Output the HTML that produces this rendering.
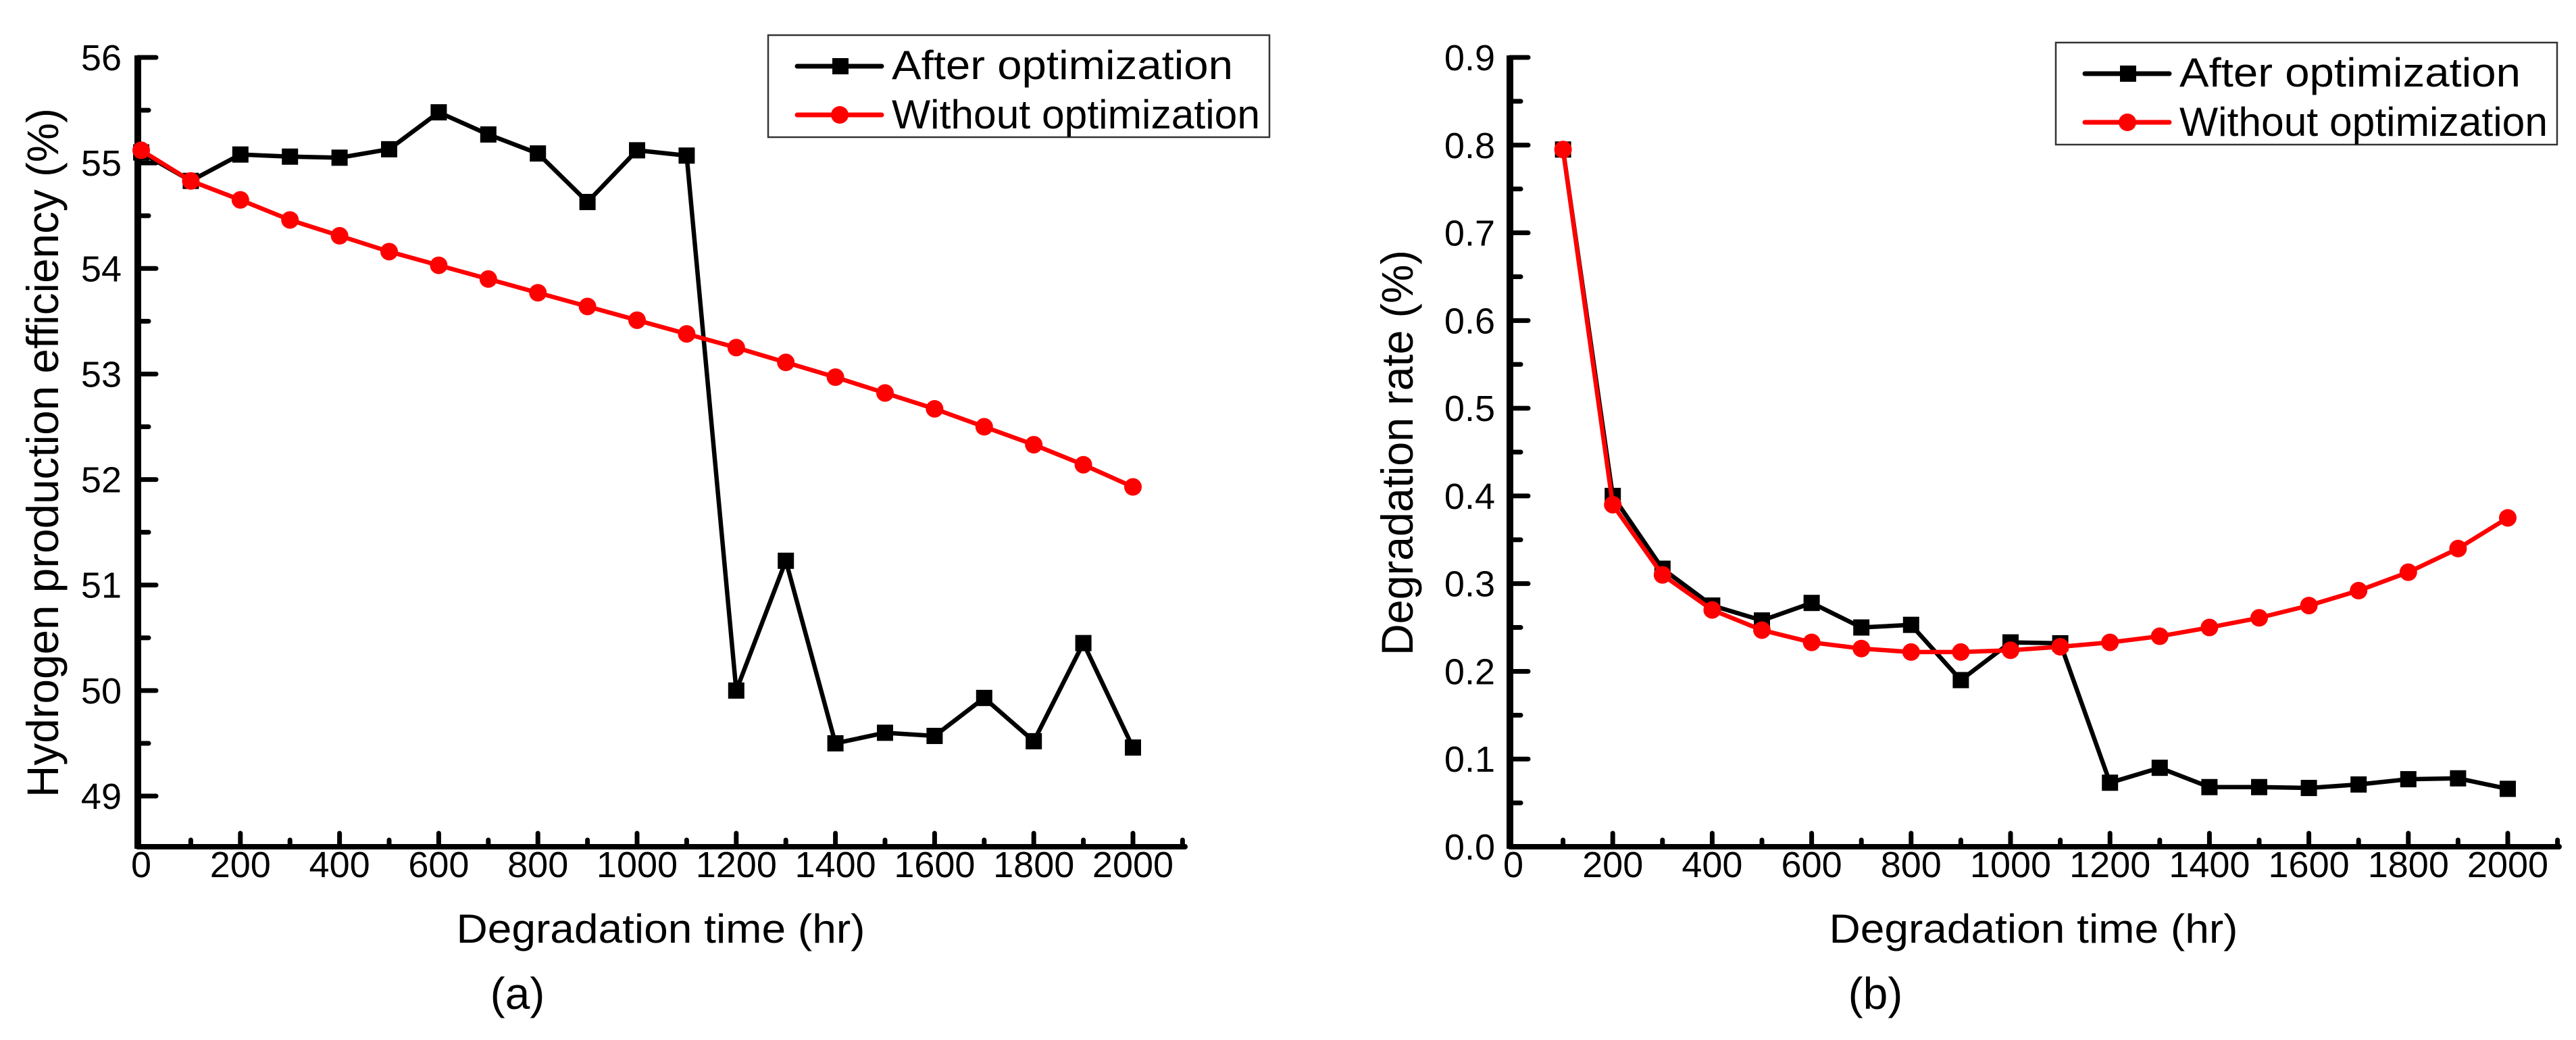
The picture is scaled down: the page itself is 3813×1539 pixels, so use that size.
<!DOCTYPE html>
<html><head><meta charset="utf-8"><style>
html,body{margin:0;padding:0;background:#fff;}
svg{display:block;font-family:"Liberation Sans",Arial,sans-serif;}
</style></head><body>
<svg id="fig" width="3813" height="1539" viewBox="0 0 3813 1539" xmlns="http://www.w3.org/2000/svg"></svg>
<script>
const timesA = [0,100,200,300,400,500,600,700,800,900,1000,1100,1200,1300,1400,1500,1600,1700,1800,1900,2000];
const effAfter = [55.1,54.83,55.08,55.06,55.05,55.13,55.48,55.27,55.09,54.63,55.12,55.07,50.0,51.23,49.5,49.6,49.57,49.93,49.52,50.45,49.46];
const effWithout = [55.12,54.83,54.65,54.46,54.31,54.16,54.03,53.9,53.77,53.64,53.51,53.38,53.25,53.11,52.97,52.82,52.67,52.5,52.33,52.14,51.93];
const timesB = [100,200,300,400,500,600,700,800,900,1000,1100,1200,1300,1400,1500,1600,1700,1800,1900,2000];
const rateAfter = [0.795,0.40,0.317,0.275,0.258,0.278,0.25,0.253,0.19,0.233,0.232,0.073,0.09,0.068,0.068,0.067,0.071,0.077,0.078,0.066];
const rateWithout = [0.795,0.39,0.31,0.27,0.247,0.233,0.226,0.222,0.222,0.224,0.228,0.233,0.24,0.25,0.261,0.275,0.292,0.313,0.34,0.375];
const xTicks = [0,200,400,600,800,1000,1200,1400,1600,1800,2000];
const yTicksA = [49,50,51,52,53,54,55,56];
const yTicksB = [0.0,0.1,0.2,0.3,0.4,0.5,0.6,0.7,0.8,0.9];

const svg = document.getElementById('fig');
const NS = 'http://www.w3.org/2000/svg';
function mk(tag, attrs, parent){
  const e = document.createElementNS(NS, tag);
  for (const k in attrs) e.setAttribute(k, attrs[k]);
  (parent||svg).appendChild(e);
  return e;
}
function txt(s, x, y, size, anchor, w, parent){
  const t = mk('text', {x:x, y:y, 'font-size':size, 'text-anchor':anchor, fill:'#000'}, parent);
  if (w) { t.setAttribute('textLength', w); t.setAttribute('lengthAdjust','spacingAndGlyphs'); }
  t.textContent = s;
  return t;
}

function panel(cfg){
  const g = mk('g', {});
  
  
  const X = v => cfg.x0 + v * (cfg.x1 - cfg.x0) / 2000;
  const Y = v => cfg.yb - (v - cfg.ymin) * (cfg.yb - cfg.ytop) / (cfg.ymax - cfg.ymin);
  const ax = mk('g', {}, g);
  
  
  mk('line', {x1:cfg.x0-5, y1:cfg.yb, x2:cfg.xend, y2:cfg.yb, stroke:'#000','stroke-width':8,'stroke-linecap':'round'}, ax);
  mk('line', {x1:cfg.x0-5, y1:Y(cfg.ymax)-3, x2:cfg.x0-5, y2:cfg.yb+3, stroke:'#000','stroke-width':10}, ax);
  for (let v=100; v<=2100; v+=100){
    const major = v%200===0;
    mk('line',{x1:X(v),y1:cfg.yb,x2:X(v),y2:cfg.yb-(major?20:10),stroke:'#000','stroke-width':7,'stroke-linecap':'round'}, ax);
  }
  xTicks.forEach(v=>{
    const t = txt(String(v), X(v), 1298, 54, 'middle', null, ax);
    
    
  });
  const step = cfg.yTicks[1]-cfg.yTicks[0];
  for (let i=0;i<cfg.yTicks.length;i++){
    const v = cfg.yTicks[i];
    mk('line',{x1:cfg.x0-5,y1:Y(v),x2:cfg.x0+22,y2:Y(v),stroke:'#000','stroke-width':7,'stroke-linecap':'round'}, ax);
    const m = v + step/2;
    if (m < cfg.ymax) mk('line',{x1:cfg.x0-5,y1:Y(m),x2:cfg.x0+11,y2:Y(m),stroke:'#000','stroke-width':7,'stroke-linecap':'round'}, ax);
    if (i===0 && v - step/2 > cfg.ymin) mk('line',{x1:cfg.x0-5,y1:Y(v-step/2),x2:cfg.x0+11,y2:Y(v-step/2),stroke:'#000','stroke-width':7}, ax);
    const t = txt(cfg.fmt(v), cfg.labelRight, Y(v)+19, 54, 'end', null, ax);
    
    
  }
  const xt = txt('Degradation time (hr)', cfg.xTitleX, 1395, 60, 'middle', 605, g);
  
  
  const yt = mk('text',{x:0,y:0,'font-size':66,'text-anchor':'middle',fill:'#000',textLength:cfg.yTitleLen,lengthAdjust:'spacingAndGlyphs',transform:`translate(${cfg.yTitleX},670) rotate(-90)`}, g);
  yt.textContent = cfg.yTitle;
  
  
  const pl = txt(cfg.panelLabel, cfg.xTitleX + cfg.plOff, 1493, 66, 'middle', null, g);
  
  
  function series(xs, ys, color, marker, nm){
    const sg = mk('g',{}, g);
    
    
    const pts = xs.map((x,i)=>X(x)+','+Y(ys[i])).join(' ');
    mk('polyline',{points:pts,fill:'none',stroke:color,'stroke-width':6.5,'stroke-linejoin':'round'}, sg);
    xs.forEach((x,i)=>{
      let m;
      if (marker==='square') m = mk('rect',{x:X(x)-12,y:Y(ys[i])-12,width:24,height:24,fill:color}, sg);
      else m = mk('circle',{cx:X(x),cy:Y(ys[i]),r:13,fill:color}, sg);
      
      
    });
  }
  series(cfg.xs, cfg.after, '#000', 'square', 'series-after-optimization');
  series(cfg.xs, cfg.without, '#ff0000', 'circle', 'series-without-optimization');
  const lg = mk('g',{}, g);
  
  
  const L = cfg.legX, T = cfg.legY;
  mk('rect',{x:L,y:T,width:742,height:151,fill:'#fff',stroke:'#333','stroke-width':2.5}, lg);
  const e1 = mk('g',{}, lg);
  
  
  mk('line',{x1:L+43,y1:T+46,x2:L+168,y2:T+46,stroke:'#000','stroke-width':7,'stroke-linecap':'round'}, e1);
  mk('rect',{x:L+95,y:T+34,width:24,height:24,fill:'#000'}, e1);
  txt('After optimization', L+183, T+65, 60, 'start', 505, e1);
  const e2 = mk('g',{}, lg);
  
  
  mk('line',{x1:L+43,y1:T+118,x2:L+168,y2:T+118,stroke:'#ff0000','stroke-width':7,'stroke-linecap':'round'}, e2);
  mk('circle',{cx:L+106,cy:T+118,r:13,fill:'#ff0000'}, e2);
  txt('Without optimization', L+183, T+138, 60, 'start', 545, e2);
}

panel({name:'chart-a-efficiency', x0:209, x1:1677, xend:1754, yb:1253, ytop:85, ymin:48.52, ymax:56,
  yTicks:yTicksA, fmt:v=>String(v), labelRight:180, xTitleX:978, yTitleX:86, yTitleLen:1020,
  yTitle:'Hydrogen production efficiency (%)', panelLabel:'(a)', plOff:-212,
  xs:timesA, after:effAfter, without:effWithout, legX:1137, legY:52});
panel({name:'chart-b-degradation-rate', x0:2240, x1:3712, xend:3788, yb:1253, ytop:85, ymin:0, ymax:0.9,
  yTicks:yTicksB, fmt:v=>v.toFixed(1), labelRight:2213, xTitleX:3010, yTitleX:2091, yTitleLen:600,
  yTitle:'Degradation rate (%)', panelLabel:'(b)', plOff:-234,
  xs:timesB, after:rateAfter, without:rateWithout, legX:3043, legY:63});
</script>
</body></html>
